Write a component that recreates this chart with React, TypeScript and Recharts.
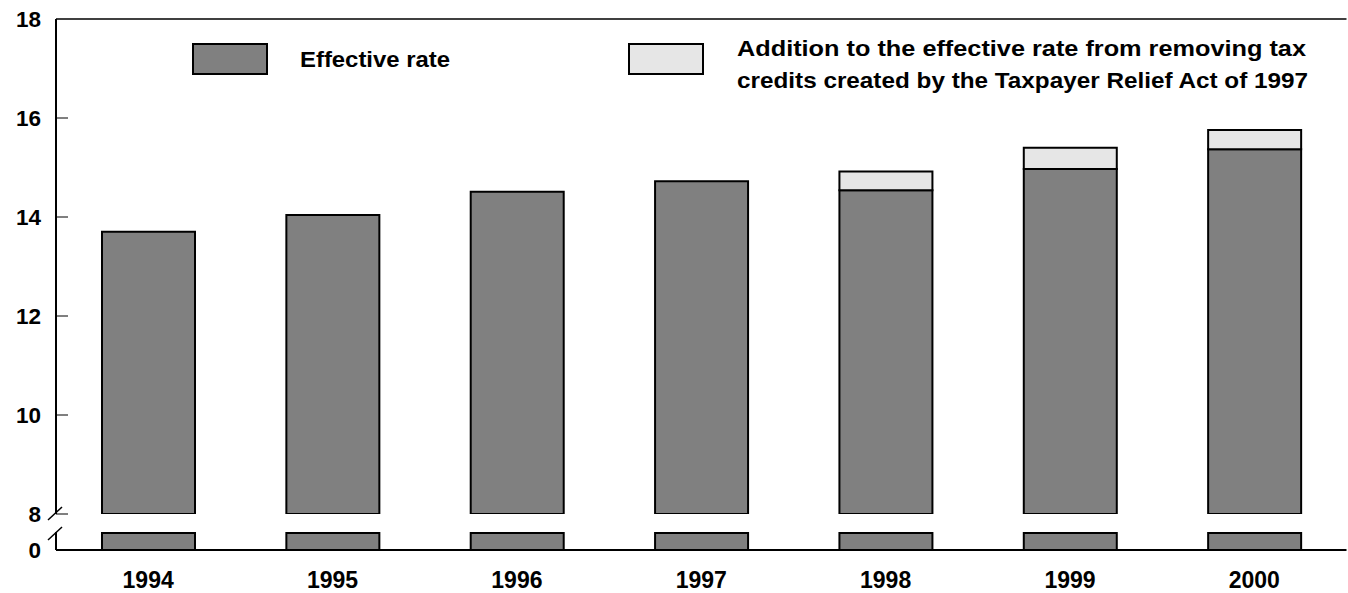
import React from 'react';
import { BarChart, Bar, XAxis, YAxis, Legend, ReferenceLine } from 'recharts';

const years = ['1994', '1995', '1996', '1997', '1998', '1999', '2000'];
const effectiveRate = [13.7, 14.04, 14.51, 14.72, 14.54, 14.97, 15.37];
const additionFromCredits = [0, 0, 0, 0, 0.38, 0.43, 0.39];
const upperTicks = [8, 10, 12, 14, 16, 18];
const innerTickValues = [8, 10, 12, 14, 16];
const lowerTicks = [0];
const seriesNames = [
  'Effective rate',
  'Addition to the effective rate from removing tax credits created by the Taxpayer Relief Act of 1997',
];
const legendLines = [
  ['Effective rate'],
  ['Addition to the effective rate from removing tax', 'credits created by the Taxpayer Relief Act of 1997'],
];
const LOWER_STUB = 0.94;

const rows = years.map((year, i) => ({
  year,
  effective: effectiveRate[i],
  addition: additionFromCredits[i],
}));

const FONT = 'Liberation Sans, Arial, Helvetica, sans-serif';
const W = 1348;
const H = 593;
const BAR_SIZE = 93;
const EFF_FILL = '#808080';
const ADD_FILL = '#e6e6e6';
const TICK_FS = 22.5;
const TICK_MARGIN = 15;

const UpperTick = (props: any) => {
  const { x, y, payload } = props;
  const axisX = x + TICK_MARGIN;
  return (
    <g>
      <text x={x} y={y} dy="0.355em" textAnchor="end" fontSize={TICK_FS} fontWeight="bold" fontFamily={FONT} fill="#000">
        {payload.value}
      </text>
      {innerTickValues.includes(payload.value) && (
        <line x1={axisX} y1={y} x2={axisX + 12} y2={y} stroke="#000" strokeWidth={1} />
      )}
      {payload.value === 8 && (
        <line x1={x + 7} y1={y + 6} x2={x + 21} y2={y - 7} stroke="#000" strokeWidth={1.5} />
      )}
    </g>
  );
};

const LowerTick = (props: any) => {
  const { x, y, payload } = props;
  return (
    <g>
      <text x={x} y={y} dy="0.355em" textAnchor="end" fontSize={TICK_FS} fontWeight="bold" fontFamily={FONT} fill="#000">
        {payload.value}
      </text>
      <line x1={x + 7} y1={y - 10} x2={x + 21} y2={y - 23} stroke="#000" strokeWidth={1.5} />
    </g>
  );
};

const legendLayout = [
  { bx: 193, by: 44, tx: 300, baselines: [67], widths: [150] },
  { bx: 629, by: 44, tx: 737, baselines: [56, 88], widths: [569, 571] },
];

const LegendContent = (props: any) => {
  const payload = props.payload || [];
  return (
    <svg width={W} height={100} style={{ display: 'block' }}>
      {payload.map((entry: any, idx: number) => {
        let i = seriesNames.indexOf(entry.value);
        if (i < 0) i = idx;
        const L = legendLayout[i];
        if (!L) return null;
        return (
          <g key={i}>
            <rect x={L.bx} y={L.by} width={74} height={30} fill={i === 0 ? EFF_FILL : ADD_FILL} stroke="#000" strokeWidth={2} />
            {legendLines[i].map((line, j) => (
              <text
                key={j}
                x={L.tx}
                y={L.baselines[j]}
                fontSize={22}
                fontWeight="bold"
                fontFamily={FONT}
                fill="#000"
                textLength={L.widths[j]}
                lengthAdjust="spacingAndGlyphs"
              >
                {line}
              </text>
            ))}
          </g>
        );
      })}
    </svg>
  );
};

export default function App() {
  return (
    <div style={{ position: 'absolute', left: 0, top: 0, width: W, height: H, background: '#fff' }}>
      <div style={{ position: 'absolute', left: 0, top: 0 }}>
        <BarChart
          width={W}
          height={H}
          data={rows}
          margin={{ top: 19, right: 1.5, bottom: 79, left: 0 }}
          barGap={-BAR_SIZE}
        >
          <XAxis dataKey="year" hide />
          <YAxis
            yAxisId="l"
            type="number"
            domain={[8, 18]}
            ticks={upperTicks}
            interval={0}
            width={56}
            allowDataOverflow
            axisLine={{ stroke: '#000', strokeWidth: 2 }}
            tickLine={false}
            tickSize={0}
            tickMargin={TICK_MARGIN}
            tick={<UpperTick />}
          />
          <YAxis
            yAxisId="r"
            type="number"
            orientation="right"
            domain={[8, 18]}
            width={0}
            allowDataOverflow
            axisLine={{ stroke: '#000', strokeWidth: 1.5 }}
            tick={false}
            tickLine={false}
          />
          <ReferenceLine yAxisId="l" y={18} stroke="#000" strokeWidth={1.5} />
          <Bar
            yAxisId="l"
            dataKey="effective"
            name={seriesNames[0]}
            fill={EFF_FILL}
            stroke="#000"
            strokeWidth={2}
            barSize={BAR_SIZE}
            isAnimationActive={false}
          />
          <Bar
            yAxisId="l"
            dataKey={(d: any) => (d.addition > 0 ? [d.effective, d.effective + d.addition] : null)}
            name={seriesNames[1]}
            fill={ADD_FILL}
            stroke="#000"
            strokeWidth={2}
            barSize={BAR_SIZE}
            isAnimationActive={false}
          />
          <Legend
            layout="horizontal"
            verticalAlign="middle"
            align="center"
            wrapperStyle={{ top: 0, left: 0, width: W, height: 100 }}
            content={LegendContent}
          />
        </BarChart>
      </div>
      <div style={{ position: 'absolute', left: 0, top: 0 }}>
        <BarChart
          width={W}
          height={H}
          data={rows}
          margin={{ top: 532, right: 1.5, bottom: 0, left: 0 }}
        >
          <XAxis
            dataKey="year"
            height={43}
            interval={0}
            axisLine={{ stroke: '#000', strokeWidth: 2 }}
            tickLine={false}
            tickSize={0}
            tickMargin={22}
            tick={{ fontSize: 23, fontWeight: 'bold', fill: '#000', fontFamily: FONT }}
          />
          <YAxis
            yAxisId="l"
            type="number"
            domain={[0, 1]}
            ticks={lowerTicks}
            interval={0}
            width={56}
            axisLine={{ stroke: '#000', strokeWidth: 2 }}
            tickLine={false}
            tickSize={0}
            tickMargin={TICK_MARGIN}
            tick={<LowerTick />}
          />
          <YAxis
            yAxisId="r"
            type="number"
            orientation="right"
            domain={[0, 1]}
            width={0}
            axisLine={{ stroke: '#000', strokeWidth: 1.5 }}
            tick={false}
            tickLine={false}
          />
          <Bar
            yAxisId="l"
            dataKey={(d: any) => Math.min(d.effective, LOWER_STUB)}
            name={seriesNames[0]}
            fill={EFF_FILL}
            stroke="#000"
            strokeWidth={2}
            barSize={BAR_SIZE}
            isAnimationActive={false}
          />
        </BarChart>
      </div>
    </div>
  );
}
